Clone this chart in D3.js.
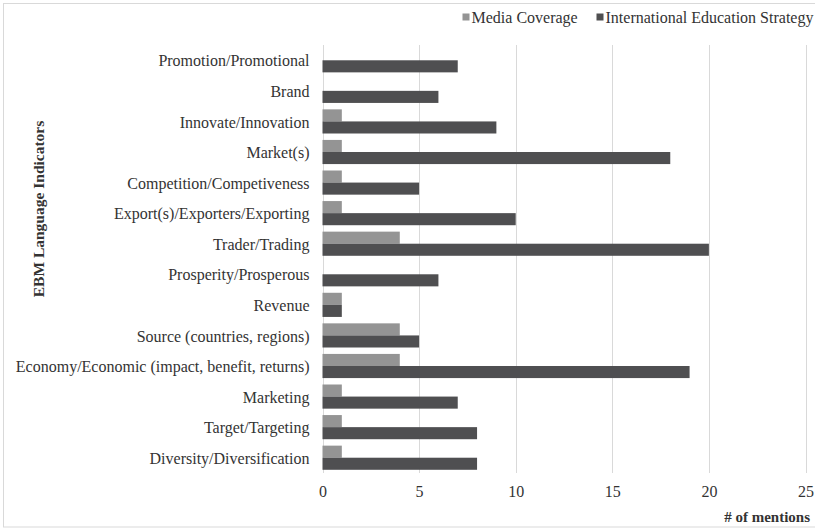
<!DOCTYPE html>
<html>
<head>
<meta charset="utf-8">
<script src="https://cdn.jsdelivr.net/npm/d3@7"></script>
<style>
  html, body { margin: 0; padding: 0; background: #fff; }
  svg { display: block; font-family: "Liberation Serif", "DejaVu Serif", serif; }
</style>
</head>
<body>
<svg id="chart" width="815" height="531"></svg>
<script>
// EBM language indicators, top to bottom
const categories = [
  "Promotion/Promotional",
  "Brand",
  "Innovate/Innovation",
  "Market(s)",
  "Competition/Competiveness",
  "Export(s)/Exporters/Exporting",
  "Trader/Trading",
  "Prosperity/Prosperous",
  "Revenue",
  "Source (countries, regions)",
  "Economy/Economic (impact, benefit, returns)",
  "Marketing",
  "Target/Targeting",
  "Diversity/Diversification"
];
const mediaCoverage = [0, 0, 1, 1, 1, 1, 4, 0, 1, 4, 4, 1, 1, 1];
const educationStrategy = [7, 6, 9, 18, 5, 10, 20, 6, 1, 5, 19, 7, 8, 8];
const seriesNames = ["Media Coverage", "International Education Strategy"];
const xTicks = [0, 5, 10, 15, 20, 25];

const colors = ["#949494", "#4f4f51"];
const textColor = "#333333";
const gridColor = "#d9d9d9";
const serif = "'Liberation Serif', 'DejaVu Serif', serif";

const svg = d3.select("#chart");
const margin = { left: 322.5, right: 9.5, top: 45, bottom: 58 };
const W = 815, H = 531;

// outer chart frame
svg.append("rect")
  .attr("x", 3.5).attr("y", 3.5)
  .attr("width", W + 10).attr("height", 523.5)
  .attr("fill", "#fff").attr("stroke", gridColor).attr("stroke-width", 1);

const x = d3.scaleLinear().domain([0, 25]).range([margin.left, W - margin.right]);
const y = d3.scaleBand().domain(categories).range([margin.top, H - margin.bottom]).paddingInner(0).paddingOuter(0);
const barH = y.bandwidth() * 0.395;

// vertical gridlines
svg.append("g")
  .selectAll("line")
  .data(xTicks)
  .join("line")
  .attr("x1", d => Math.round(x(d)) + 0.5)
  .attr("x2", d => Math.round(x(d)) + 0.5)
  .attr("y1", margin.top)
  .attr("y2", H - margin.bottom)
  .attr("stroke", gridColor)
  .attr("stroke-width", 1);

// bars: media coverage above the band centre, strategy below
const rows = categories.map((c, i) => ({ c, vals: [mediaCoverage[i], educationStrategy[i]] }));
const group = svg.append("g").selectAll("g")
  .data(rows)
  .join("g")
  .attr("transform", d => `translate(0,${y(d.c) + y.bandwidth() / 2})`);

group.selectAll("rect")
  .data(d => d.vals.map((v, k) => ({ v, k })))
  .join("rect")
  .attr("x", x(0))
  .attr("y", d => d.k === 0 ? -barH : 0)
  .attr("width", d => x(d.v) - x(0))
  .attr("height", barH)
  .attr("fill", d => colors[d.k]);

// category labels
const yAxis = d3.axisLeft(y).tickSize(0).tickPadding(13);
const yg = svg.append("g").attr("transform", `translate(${x(0)},0)`).call(yAxis)
  .attr("font-family", serif).attr("font-size", 16);
yg.select(".domain").remove();
yg.selectAll("text")
  .attr("fill", textColor)
  .attr("dy", "0.38em");

// x axis tick labels
const xAxis = d3.axisBottom(x).tickValues(xTicks).tickSize(0).tickPadding(13);
const xg = svg.append("g").attr("transform", `translate(0,${H - margin.bottom})`).call(xAxis)
  .attr("font-family", serif).attr("font-size", 16);
xg.select(".domain").remove();
xg.selectAll("text").attr("fill", textColor);

// axis titles
svg.append("text")
  .attr("x", 810).attr("y", 522)
  .attr("text-anchor", "end")
  .attr("font-family", serif)
  .attr("font-weight", "bold")
  .attr("font-size", 15)
  .attr("fill", textColor)
  .text("# of mentions");

svg.append("text")
  .attr("transform", "translate(44,209) rotate(-90)")
  .attr("text-anchor", "middle")
  .attr("font-family", serif)
  .attr("font-weight", "bold")
  .attr("font-size", 15.5)
  .attr("fill", textColor)
  .text("EBM Language Indicators");

// legend
const legendX = [462.5, 596.5];
const legend = svg.append("g").selectAll("g")
  .data(seriesNames)
  .join("g")
  .attr("transform", (d, i) => `translate(${legendX[i]},17)`);
legend.append("rect")
  .attr("x", 0).attr("y", -3.5)
  .attr("width", 7).attr("height", 7)
  .attr("fill", (d, i) => colors[i]);
legend.append("text")
  .attr("x", 9).attr("y", 5.5)
  .attr("font-family", serif)
  .attr("font-size", 16)
  .attr("fill", textColor)
  .text(d => d);
</script>
</body>
</html>
